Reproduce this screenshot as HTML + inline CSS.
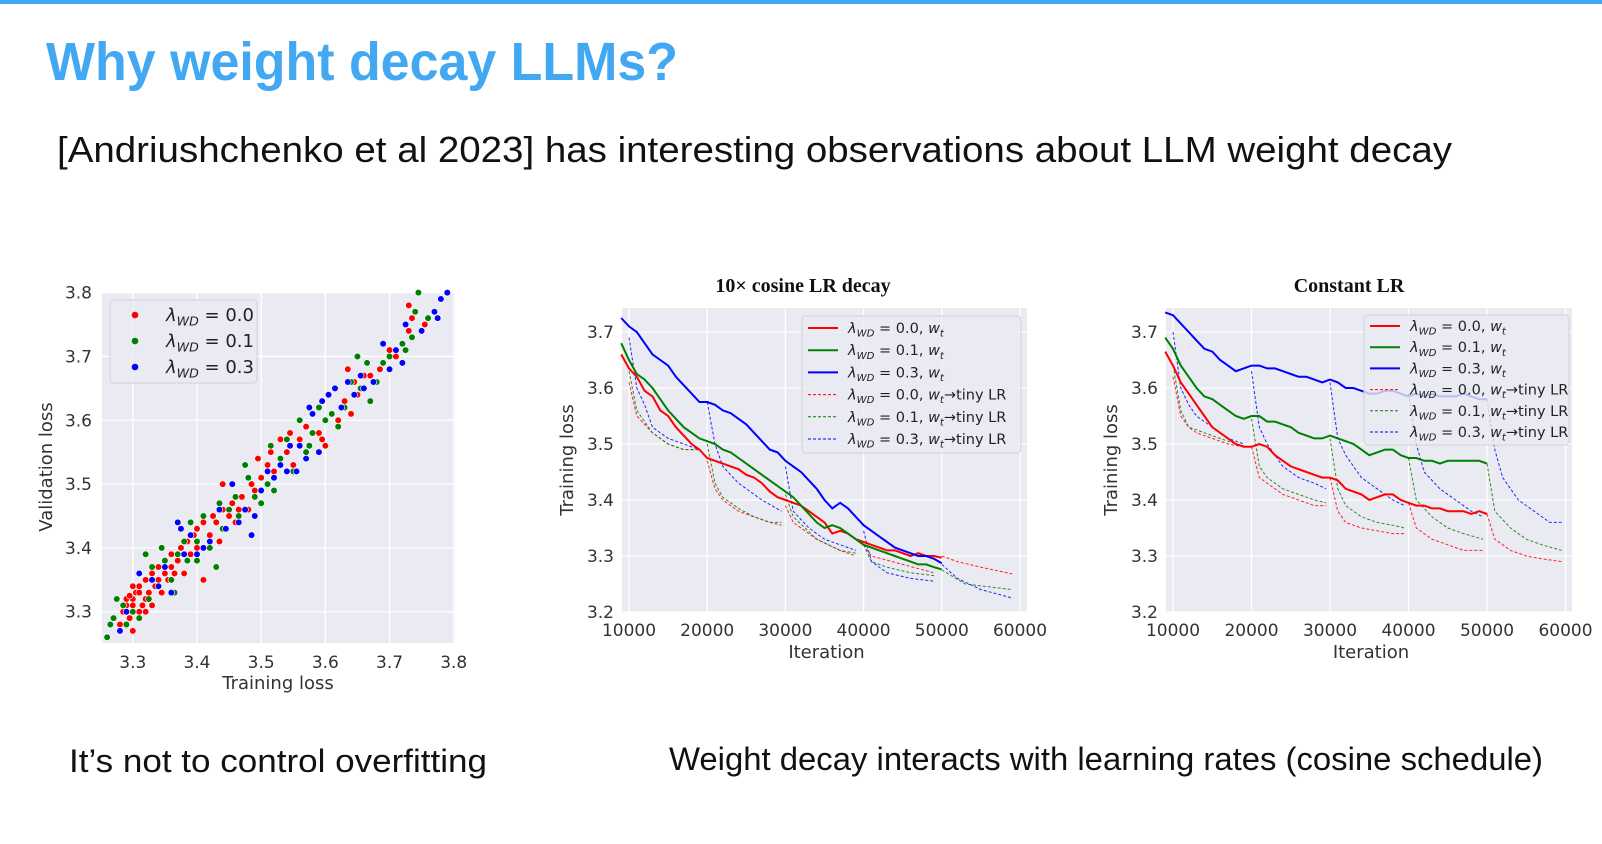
<!DOCTYPE html>
<html><head><meta charset="utf-8"><style>
html,body{margin:0;padding:0;background:#fff;}
svg{display:block;}
</style></head><body>
<svg id="root" width="1602" height="844" viewBox="0 0 1602 844" xmlns="http://www.w3.org/2000/svg">
<rect x="0" y="0" width="1602" height="4" fill="#3fa9f5"/>
<text x="46" y="80" font-family="'Liberation Sans',sans-serif" font-weight="bold" font-size="54" fill="#42a8f2" textLength="632" lengthAdjust="spacingAndGlyphs">Why weight decay LLMs?</text>
<text x="57" y="162" font-family="'Liberation Sans',sans-serif" font-size="36" fill="#111" textLength="1395" lengthAdjust="spacingAndGlyphs">[Andriushchenko et al 2023] has interesting observations about LLM weight decay</text>
<text x="69" y="772" font-family="'Liberation Sans',sans-serif" font-size="32" fill="#111" textLength="418" lengthAdjust="spacingAndGlyphs">It’s not  to control overfitting</text>
<text x="669" y="770" font-family="'Liberation Sans',sans-serif" font-size="32" fill="#111" textLength="874" lengthAdjust="spacingAndGlyphs">Weight decay interacts with learning rates (cosine schedule)</text>
<g id="scatter"></g>
<g id="cosine"></g>
<g id="constant"></g>
</svg>
<script>
// ---------- scatter data ----------
const scatterGroups = ['λ_WD = 0.0', 'λ_WD = 0.1', 'λ_WD = 0.3'];
const scatterRed = [[3.28,3.28],[3.285,3.30],[3.29,3.31],[3.295,3.29],[3.30,3.32],[3.30,3.27],[3.305,3.33],[3.31,3.30],[3.31,3.34],[3.315,3.31],[3.32,3.32],[3.32,3.30],[3.325,3.33],[3.33,3.31],[3.33,3.36],[3.335,3.34],[3.34,3.35],[3.34,3.37],[3.345,3.33],[3.35,3.36],[3.35,3.38],[3.355,3.35],[3.36,3.37],[3.36,3.39],[3.365,3.36],[3.37,3.38],[3.375,3.40],[3.38,3.36],[3.385,3.41],[3.39,3.39],[3.395,3.42],[3.40,3.43],[3.40,3.40],[3.41,3.35],[3.41,3.44],[3.42,3.42],[3.425,3.45],[3.43,3.44],[3.435,3.41],[3.44,3.46],[3.44,3.50],[3.45,3.45],[3.455,3.47],[3.46,3.44],[3.465,3.46],[3.47,3.48],[3.48,3.46],[3.485,3.50],[3.49,3.49],[3.495,3.54],[3.50,3.51],[3.51,3.53],[3.515,3.55],[3.52,3.52],[3.53,3.57],[3.54,3.55],[3.545,3.58],[3.55,3.53],[3.56,3.57],[3.57,3.59],[3.575,3.56],[3.58,3.58],[3.59,3.58],[3.595,3.57],[3.60,3.56],[3.62,3.60],[3.63,3.63],[3.635,3.68],[3.64,3.61],[3.645,3.66],[3.65,3.64],[3.66,3.67],[3.67,3.67],[3.685,3.68],[3.70,3.71],[3.71,3.70],[3.72,3.69],[3.73,3.74],[3.73,3.78],[3.735,3.76],[3.755,3.75],[3.29,3.32],[3.30,3.34],[3.31,3.33],[3.32,3.35],[3.30,3.31],[3.295,3.325]];
const scatterGreen = [[3.26,3.26],[3.265,3.28],[3.27,3.29],[3.275,3.32],[3.28,3.27],[3.285,3.31],[3.29,3.28],[3.30,3.30],[3.31,3.29],[3.32,3.39],[3.325,3.32],[3.33,3.37],[3.34,3.34],[3.345,3.40],[3.35,3.38],[3.36,3.35],[3.365,3.33],[3.37,3.39],[3.38,3.41],[3.385,3.38],[3.39,3.44],[3.40,3.41],[3.40,3.38],[3.41,3.45],[3.42,3.40],[3.43,3.37],[3.435,3.47],[3.44,3.43],[3.45,3.46],[3.46,3.48],[3.465,3.45],[3.475,3.53],[3.48,3.51],[3.49,3.48],[3.50,3.47],[3.51,3.50],[3.515,3.56],[3.52,3.49],[3.53,3.54],[3.54,3.57],[3.55,3.52],[3.56,3.60],[3.57,3.55],[3.575,3.56],[3.58,3.58],[3.59,3.62],[3.60,3.60],[3.61,3.61],[3.62,3.59],[3.63,3.62],[3.64,3.66],[3.65,3.70],[3.655,3.65],[3.665,3.69],[3.67,3.63],[3.68,3.66],[3.69,3.69],[3.70,3.70],[3.72,3.72],[3.725,3.71],[3.735,3.73],[3.74,3.77],[3.745,3.80],[3.76,3.76],[3.77,3.77]];
const scatterBlue = [[3.28,3.27],[3.29,3.30],[3.31,3.36],[3.33,3.35],[3.34,3.34],[3.35,3.37],[3.36,3.33],[3.37,3.44],[3.375,3.43],[3.38,3.39],[3.39,3.42],[3.40,3.39],[3.41,3.40],[3.42,3.41],[3.435,3.46],[3.445,3.43],[3.455,3.50],[3.465,3.44],[3.475,3.46],[3.485,3.42],[3.49,3.45],[3.50,3.49],[3.51,3.52],[3.52,3.51],[3.53,3.53],[3.54,3.52],[3.545,3.56],[3.555,3.52],[3.56,3.56],[3.57,3.54],[3.575,3.62],[3.58,3.61],[3.59,3.55],[3.595,3.63],[3.605,3.64],[3.615,3.65],[3.625,3.62],[3.635,3.66],[3.645,3.64],[3.655,3.67],[3.66,3.65],[3.675,3.66],[3.69,3.72],[3.70,3.68],[3.71,3.71],[3.72,3.69],[3.725,3.75],[3.75,3.74],[3.77,3.77],[3.775,3.76],[3.78,3.79],[3.79,3.80]];
const scatterTicks = [3.3, 3.4, 3.5, 3.6, 3.7, 3.8];

// ---------- line chart data ----------
const iters = [9000,10000,11000,12000,13000,14000,15000,16000,17000,18000,19000,20000,21000,22000,23000,24000,25000,26000,27000,28000,29000,30000,31000,32000,33000,34000,35000,36000,37000,38000,39000,40000,41000,42000,43000,44000,45000,46000,47000,48000,49000,50000];
const iterTicks = [10000,20000,30000,40000,50000,60000];
const lossTicks = [3.2,3.3,3.4,3.5,3.6,3.7];
const legendLabels = ['0.0','0.1','0.3'];

const cosRed = [3.66,3.635,3.62,3.595,3.585,3.56,3.55,3.53,3.515,3.50,3.49,3.475,3.47,3.465,3.46,3.455,3.445,3.44,3.43,3.415,3.405,3.40,3.395,3.39,3.38,3.37,3.36,3.34,3.345,3.34,3.33,3.325,3.32,3.315,3.31,3.31,3.305,3.30,3.305,3.30,3.30,3.297];
const cosGreen = [3.68,3.65,3.625,3.615,3.60,3.58,3.56,3.545,3.53,3.52,3.51,3.505,3.50,3.49,3.485,3.475,3.465,3.455,3.445,3.435,3.425,3.415,3.405,3.39,3.375,3.36,3.35,3.355,3.35,3.34,3.33,3.32,3.315,3.31,3.305,3.30,3.295,3.29,3.285,3.285,3.28,3.276];
const cosBlue = [3.725,3.71,3.70,3.68,3.66,3.65,3.64,3.62,3.605,3.59,3.575,3.575,3.57,3.56,3.555,3.545,3.535,3.52,3.505,3.49,3.485,3.47,3.46,3.45,3.435,3.42,3.40,3.385,3.395,3.385,3.37,3.355,3.345,3.335,3.325,3.315,3.31,3.305,3.30,3.30,3.295,3.287];
const cosRedTiny = [
 [[10000,3.61],[11000,3.55],[12000,3.535],[13000,3.52],[15000,3.50],[17000,3.49],[19000,3.49]],
 [[20000,3.47],[21000,3.42],[22000,3.40],[24000,3.38],[26000,3.37],[28000,3.36],[29500,3.355]],
 [[30000,3.39],[31000,3.36],[34000,3.33],[37000,3.31],[39000,3.30]],
 [[40000,3.32],[41000,3.30],[45000,3.285],[49000,3.27]],
 [[50000,3.30],[52000,3.29],[55000,3.28],[59000,3.268]]];
const cosGreenTiny = [
 [[10000,3.63],[11000,3.56],[12000,3.54],[13000,3.52],[15000,3.50],[17000,3.49],[19000,3.49]],
 [[20000,3.50],[21000,3.43],[22000,3.405],[24000,3.385],[26000,3.37],[28000,3.36],[29500,3.36]],
 [[30000,3.41],[31000,3.37],[34000,3.33],[37000,3.31],[39000,3.305]],
 [[40000,3.32],[41000,3.29],[43000,3.28],[46000,3.27],[49000,3.265]],
 [[50000,3.275],[53000,3.25],[56000,3.245],[59000,3.24]]];
const cosBlueTiny = [
 [[10000,3.69],[11000,3.60],[12000,3.57],[13000,3.53],[15000,3.51],[17000,3.50],[19000,3.49]],
 [[20000,3.575],[21000,3.50],[22000,3.46],[24000,3.43],[27000,3.40],[29500,3.38]],
 [[30000,3.46],[31000,3.38],[33000,3.35],[35000,3.33],[37000,3.32],[39000,3.31]],
 [[40000,3.345],[41000,3.29],[43000,3.27],[46000,3.26],[49000,3.255]],
 [[50000,3.285],[52000,3.26],[55000,3.24],[59000,3.225]]];

const conRed = [3.665,3.64,3.61,3.59,3.57,3.55,3.53,3.52,3.51,3.50,3.495,3.495,3.50,3.495,3.48,3.47,3.46,3.455,3.45,3.445,3.44,3.44,3.435,3.42,3.415,3.41,3.40,3.405,3.41,3.41,3.40,3.395,3.39,3.39,3.385,3.385,3.38,3.38,3.38,3.375,3.38,3.375];
const conGreen = [3.69,3.67,3.64,3.62,3.60,3.585,3.58,3.57,3.56,3.55,3.545,3.55,3.55,3.54,3.54,3.535,3.53,3.52,3.515,3.51,3.51,3.515,3.51,3.505,3.50,3.49,3.48,3.485,3.49,3.49,3.48,3.475,3.475,3.47,3.47,3.465,3.47,3.47,3.47,3.47,3.47,3.465];
const conBlue = [3.735,3.73,3.715,3.70,3.685,3.67,3.665,3.65,3.64,3.63,3.635,3.64,3.64,3.635,3.635,3.63,3.625,3.62,3.62,3.615,3.61,3.615,3.61,3.60,3.60,3.595,3.59,3.59,3.595,3.595,3.59,3.585,3.59,3.585,3.59,3.585,3.585,3.585,3.59,3.585,3.58,3.58];
const conRedTiny = [
 [[10000,3.62],[11000,3.55],[12000,3.53],[13000,3.52],[15000,3.51],[17000,3.50],[19000,3.495]],
 [[20000,3.495],[21000,3.44],[22000,3.43],[24000,3.41],[26000,3.40],[28000,3.39],[29500,3.39]],
 [[30000,3.44],[31000,3.38],[32000,3.36],[34000,3.35],[36000,3.345],[38000,3.34],[39500,3.34]],
 [[40000,3.395],[41000,3.35],[43000,3.33],[45000,3.32],[47000,3.31],[49500,3.31]],
 [[50000,3.375],[51000,3.33],[53000,3.31],[55000,3.30],[57000,3.295],[59500,3.29]]];
const conGreenTiny = [
 [[10000,3.64],[11000,3.56],[12000,3.53],[14000,3.52],[16000,3.51],[18000,3.50],[19500,3.495]],
 [[20000,3.545],[21000,3.46],[22000,3.44],[24000,3.42],[26000,3.41],[28000,3.40],[29500,3.395]],
 [[30000,3.51],[31000,3.42],[32000,3.39],[34000,3.37],[36000,3.36],[38000,3.355],[39500,3.35]],
 [[40000,3.475],[41000,3.40],[43000,3.37],[45000,3.35],[47000,3.34],[49500,3.33]],
 [[50000,3.465],[51000,3.38],[53000,3.35],[55000,3.33],[57000,3.32],[59500,3.31]]];
const conBlueTiny = [
 [[10000,3.70],[11000,3.60],[12000,3.57],[13000,3.55],[15000,3.53],[17000,3.51],[19000,3.50]],
 [[20000,3.63],[21000,3.53],[22000,3.50],[24000,3.46],[26000,3.44],[28000,3.43],[29500,3.42]],
 [[30000,3.61],[31000,3.51],[32000,3.48],[34000,3.44],[36000,3.42],[38000,3.40],[39500,3.39]],
 [[40000,3.59],[41000,3.50],[42000,3.45],[44000,3.42],[46000,3.40],[48000,3.38],[49500,3.37]],
 [[50000,3.58],[51000,3.49],[52000,3.44],[54000,3.40],[56000,3.38],[58000,3.36],[59500,3.36]]];

const NS = 'http://www.w3.org/2000/svg';
const TF = "'DejaVu Sans','Liberation Sans',sans-serif";
function mk(parent, tag, attrs) {
  const e = document.createElementNS(NS, tag);
  for (const k in attrs) e.setAttribute(k, attrs[k]);
  parent.appendChild(e);
  return e;
}
function lambdaLabel(parent, x, y, size, val, suffix, tiny) {
  const t = mk(parent, 'text', {x: x, y: y, 'font-family': TF, 'font-size': size, fill: '#222'});
  const a = mk(t, 'tspan', {'font-style': 'italic'}); a.textContent = 'λ';
  const b = mk(t, 'tspan', {'font-style': 'italic', 'font-size': size * 0.7, dy: size * 0.25}); b.textContent = 'WD';
  const c = mk(t, 'tspan', {dy: -size * 0.25}); c.textContent = ' = ' + val + (suffix ? ', ' : '');
  if (suffix) {
    const d = mk(t, 'tspan', {'font-style': 'italic'}); d.textContent = 'w';
    const e = mk(t, 'tspan', {'font-style': 'italic', 'font-size': size * 0.7, dy: size * 0.25}); e.textContent = 't';
    if (tiny) { const f = mk(t, 'tspan', {dy: -size * 0.25}); f.textContent = '→tiny LR'; }
  }
  return t;
}

// ---------- scatter ----------
(function(){
  const g = document.getElementById('scatter');
  const L = 102, R = 455, T = 292, B = 643, x0 = 3.252, x1 = 3.802, y0 = 3.251, y1 = 3.801;
  const sx = v => L + (v - x0) / (x1 - x0) * (R - L);
  const sy = v => B - (v - y0) / (y1 - y0) * (B - T);
  const bg = mk(g, 'rect', {x: L, y: T, width: R - L, height: B - T, fill: '#eaeaf2'});
  
  
  scatterTicks.forEach(v => {
    const gx = mk(g, 'line', {x1: sx(v), x2: sx(v), y1: T, y2: B, stroke: '#fff', 'stroke-width': 1.3});
    
    
    const gy = mk(g, 'line', {x1: L, x2: R, y1: sy(v), y2: sy(v), stroke: '#fff', 'stroke-width': 1.3});
    
    
    const tx = mk(g, 'text', {x: sx(v), y: B + 25, 'text-anchor': 'middle', 'font-family': TF, 'font-size': 17, fill: '#333'});
    tx.textContent = v.toFixed(1);
    
    
    const ty = mk(g, 'text', {x: L - 10, y: sy(v) + 6, 'text-anchor': 'end', 'font-family': TF, 'font-size': 17, fill: '#333'});
    ty.textContent = v.toFixed(1);
    
    
  });
  const series = [[scatterRed, '#f00', 'red'], [scatterGreen, '#008000', 'green'], [scatterBlue, '#0000ff', 'blue']];
  series.forEach(([pts, col, nm]) => {
    pts.forEach(p => {
      const c = mk(g, 'circle', {cx: sx(p[0]), cy: sy(p[1]), r: 3.3, fill: col, stroke: '#fff', 'stroke-width': 0.6});
      
      
    });
  });
  const lg = mk(g, 'rect', {x: 110, y: 300, width: 147, height: 83, rx: 4, fill: '#eaeaf2', 'fill-opacity': 0.8, stroke: '#d0d0d8'});
  
  
  ['#f00', '#008000', '#0000ff'].forEach((col, i) => {
    const y = 315 + i * 26;
    const m = mk(g, 'circle', {cx: 135, cy: y, r: 3.3, fill: col});
    
    
    const t = lambdaLabel(g, 166, y + 6, 18, legendLabels[i], false, false);
    
    
  });
  const xl = mk(g, 'text', {x: 278, y: 689, 'text-anchor': 'middle', 'font-family': TF, 'font-size': 18, fill: '#333'});
  xl.textContent = 'Training loss';
  
  
  const yl = mk(g, 'text', {x: 0, y: 0, transform: 'translate(52,467) rotate(-90)', 'text-anchor': 'middle', 'font-family': TF, 'font-size': 18, fill: '#333'});
  yl.textContent = 'Validation loss';
  
  
})();

// ---------- line charts ----------
function lineChart(id, cfg, solids, tinies) {
  const g = document.getElementById(id);
  const {L, R, T, B, xa, xb, title, titleX, legX, legY, legW, legH, rowY, rowH, ylabX} = cfg;
  const sx = v => xa + (v - 10000) / 10000 * xb;
  const sy = v => B - (v - 3.2) / 0.1 * 56;
  const bg = mk(g, 'rect', {x: L, y: T, width: R - L, height: B - T, fill: '#eaeaf2'});
  
  
  iterTicks.forEach(v => {
    const gx = mk(g, 'line', {x1: sx(v), x2: sx(v), y1: T, y2: B, stroke: '#fff', 'stroke-width': 1.3});
    
    
    const tx = mk(g, 'text', {x: sx(v), y: B + 24, 'text-anchor': 'middle', 'font-family': TF, 'font-size': 17, fill: '#333'});
    tx.textContent = String(v);
    
    
  });
  lossTicks.forEach(v => {
    const gy = mk(g, 'line', {x1: L, x2: R, y1: sy(v), y2: sy(v), stroke: '#fff', 'stroke-width': 1.3});
    
    
    const ty = mk(g, 'text', {x: L - 8, y: sy(v) + 6, 'text-anchor': 'end', 'font-family': TF, 'font-size': 17, fill: '#333'});
    ty.textContent = v.toFixed(1);
    
    
  });
  const cols = ['#f00', '#008000', '#0000ff'];
  const names = ['wd00', 'wd01', 'wd03'];
  tinies.forEach((segs, i) => {
    segs.forEach(seg => {
      const d = seg.map((p, j) => (j ? 'L' : 'M') + sx(p[0]).toFixed(1) + ',' + sy(p[1]).toFixed(1)).join(' ');
      const pth = mk(g, 'path', {d: d, fill: 'none', stroke: cols[i], 'stroke-width': 1, 'stroke-dasharray': '3,2', 'stroke-opacity': 0.85});
      
      
    });
  });
  solids.forEach((vals, i) => {
    const d = vals.map((v, j) => (j ? 'L' : 'M') + sx(iters[j]).toFixed(1) + ',' + sy(v).toFixed(1)).join(' ');
    const pth = mk(g, 'path', {d: d, fill: 'none', stroke: cols[i], 'stroke-width': 2});
    
    
  });
  const lg = mk(g, 'rect', {x: legX, y: legY, width: legW, height: legH, rx: 4, fill: '#eaeaf2', 'fill-opacity': 0.8, stroke: '#d0d0d8'});
  
  
  for (let k = 0; k < 6; k++) {
    const y = rowY + k * rowH;
    const i = k % 3;
    const tiny = k >= 3;
    const ln = mk(g, 'line', {x1: legX + 6, x2: legX + 36, y1: y, y2: y, stroke: cols[i], 'stroke-width': tiny ? 1 : 2, 'stroke-dasharray': tiny ? '3,2' : 'none'});
    
    
    const t = lambdaLabel(g, legX + 46, y + 5, 14.5, legendLabels[i], true, tiny);
    
    
  }
  const tt = mk(g, 'text', {x: titleX, y: 292, 'text-anchor': 'middle', 'font-family': "'Liberation Serif',serif", 'font-weight': 'bold', 'font-size': 20, fill: '#111'});
  tt.textContent = title;
  
  
  const xl = mk(g, 'text', {x: (L + R) / 2 + 2, y: 658, 'text-anchor': 'middle', 'font-family': TF, 'font-size': 18, fill: '#333'});
  xl.textContent = 'Iteration';
  
  
  const yl = mk(g, 'text', {x: 0, y: 0, transform: 'translate(' + ylabX + ',460) rotate(-90)', 'text-anchor': 'middle', 'font-family': TF, 'font-size': 18, fill: '#333'});
  yl.textContent = 'Training loss';
  
  
}
lineChart('cosine', {L: 622, R: 1027, T: 308, B: 612, xa: 629, xb: 78.2, title: '10× cosine LR decay', titleX: 803,
  legX: 802, legY: 316, legW: 219, legH: 137, rowY: 328, rowH: 22.2, ylabX: 573},
  [cosRed, cosGreen, cosBlue], [cosRedTiny, cosGreenTiny, cosBlueTiny]);
lineChart('constant', {L: 1166, R: 1572, T: 308, B: 612, xa: 1173, xb: 78.5, title: 'Constant LR', titleX: 1349,
  legX: 1364, legY: 315, legW: 205, legH: 130, rowY: 326, rowH: 21.2, ylabX: 1117},
  [conRed, conGreen, conBlue], [conRedTiny, conGreenTiny, conBlueTiny]);
</script>
</body></html>
